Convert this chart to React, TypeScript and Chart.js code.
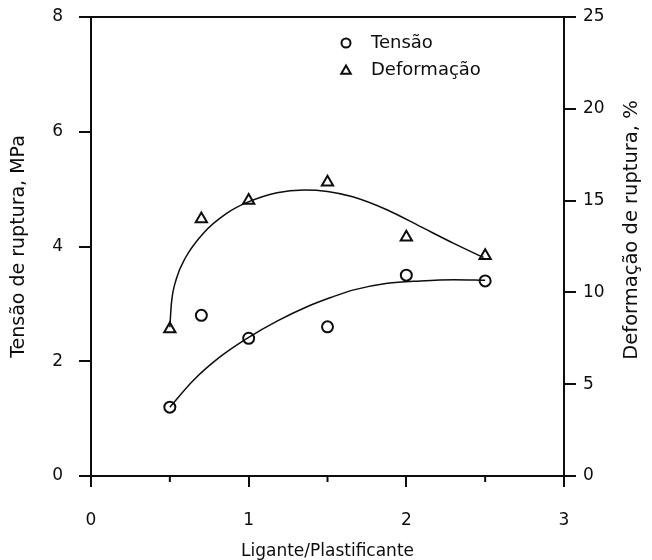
import React, { useEffect, useRef } from 'react';
import { Chart, registerables } from 'chart.js';

Chart.register(...registerables);

// ---- data ----
const xValues = [0.5, 0.7, 1.0, 1.5, 2.0, 2.5];
const tensaoValues = [1.2, 2.8, 2.4, 2.6, 3.5, 3.4];
const deformacaoValues = [8, 14, 15, 16, 13, 12];

// fitted curves
const tensaoCurveX = [0.5, 0.65, 0.82, 0.99, 1.18, 1.37, 1.52, 1.66, 1.88, 2.09, 2.3, 2.5];
const tensaoCurveY = [1.2, 1.67, 2.08, 2.4, 2.7, 2.95, 3.11, 3.24, 3.36, 3.4, 3.42, 3.41];
const deformacaoCurveX = [0.5, 0.51, 0.54, 0.6, 0.71, 0.86, 0.99, 1.18, 1.35, 1.5, 1.66, 1.88, 2.09, 2.3, 2.49];
const deformacaoCurveY = [8.1, 9.4, 10.7, 11.9, 13.2, 14.3, 14.9, 15.43, 15.58, 15.5, 15.21, 14.49, 13.58, 12.67, 11.9];

const xTicks = [0, 1, 2, 3];
const xMinorTicks = [0.5, 1.5, 2.5];
const leftTicks = [0, 2, 4, 6, 8];
const rightTicks = [0, 5, 10, 15, 20, 25];
const legendLabels = ['Tensão', 'Deformação'];
const xTitle = 'Ligante/Plastificante';
const leftTitle = 'Tensão de ruptura, MPa';
const rightTitle = 'Deformação de ruptura, %';

const FONT = "'DejaVu Sans', sans-serif";
const INK = '#0d0d0d';

const toPoints = (xs: number[], ys: number[]) => xs.map((x, i) => ({ x, y: ys[i] }));

const customPlugin = {
  id: 'customDecor',
  afterDraw(chart: any) {
    const { ctx, chartArea: a, scales } = chart;
    ctx.save();
    ctx.strokeStyle = INK;
    ctx.lineWidth = 2;
    ctx.strokeRect(a.left, a.top, a.right - a.left, a.bottom - a.top);
    // minor x ticks
    ctx.beginPath();
    xMinorTicks.forEach((v) => {
      const px = scales.x.getPixelForValue(v);
      ctx.moveTo(px, a.bottom);
      ctx.lineTo(px, a.bottom + 6);
    });
    ctx.stroke();

    // legend
    const lx = a.left + 255;
    const ly1 = a.top + 26;
    const ly2 = a.top + 53;
    ctx.lineWidth = 2;
    ctx.beginPath();
    ctx.arc(lx, ly1, 4.5, 0, Math.PI * 2);
    ctx.stroke();
    const r = 5.5;
    ctx.beginPath();
    for (let k = 0; k < 3; k++) {
      const ang = (k * 2 * Math.PI) / 3;
      const px = lx + Math.sin(ang) * r;
      const py = ly2 - Math.cos(ang) * r + 1;
      if (k === 0) ctx.moveTo(px, py);
      else ctx.lineTo(px, py);
    }
    ctx.closePath();
    ctx.stroke();
    ctx.fillStyle = INK;
    ctx.font = `18px ${FONT}`;
    ctx.textAlign = 'left';
    ctx.textBaseline = 'middle';
    ctx.fillText(legendLabels[0], lx + 25, ly1);
    ctx.fillText(legendLabels[1], lx + 25, ly2);

    // right axis title (reads bottom to top)
    ctx.translate(632, 230);
    ctx.rotate(-Math.PI / 2);
    ctx.textAlign = 'center';
    ctx.font = `19.5px ${FONT}`;
    ctx.fillText(rightTitle, 0, 0);
    ctx.restore();
  },
};

export default function App() {
  const ref = useRef<HTMLCanvasElement | null>(null);

  useEffect(() => {
    if (!ref.current) return;
    const chart = new Chart(ref.current, {
      type: 'scatter',
      data: {
        datasets: [
          {
            type: 'line',
            label: 'Tensão ajuste',
            data: toPoints(tensaoCurveX, tensaoCurveY),
            yAxisID: 'y',
            borderColor: INK,
            borderWidth: 1.5,
            pointRadius: 0,
            cubicInterpolationMode: 'monotone',
            fill: false,
          },
          {
            type: 'line',
            label: 'Deformação ajuste',
            data: toPoints(deformacaoCurveX, deformacaoCurveY),
            yAxisID: 'y1',
            borderColor: INK,
            borderWidth: 1.5,
            pointRadius: 0,
            cubicInterpolationMode: 'monotone',
            fill: false,
          },
          {
            label: legendLabels[0],
            data: toPoints(xValues, tensaoValues),
            yAxisID: 'y',
            pointStyle: 'circle',
            pointRadius: 5.5,
            borderWidth: 2,
            borderColor: INK,
            backgroundColor: 'rgba(0,0,0,0)',
          },
          {
            label: legendLabels[1],
            data: toPoints(xValues, deformacaoValues),
            yAxisID: 'y1',
            pointStyle: 'triangle',
            pointRadius: 6.5,
            borderWidth: 2,
            borderColor: INK,
            backgroundColor: 'rgba(0,0,0,0)',
          },
        ],
      },
      options: {
        responsive: false,
        animation: false,
        devicePixelRatio: 1,
        layout: { padding: { top: 17, left: 0, right: 0, bottom: 0 } },
        plugins: {
          legend: { display: false },
          tooltip: { enabled: false },
        },
        scales: {
          x: {
            type: 'linear',
            position: 'bottom',
            min: 0,
            max: 3,
            afterBuildTicks: (s: any) => {
              s.ticks = xTicks.map((v) => ({ value: v }));
            },
            afterFit: (s: any) => {
              s.height = 84;
            },
            grid: { drawOnChartArea: false, drawTicks: true, tickLength: 11, color: INK, lineWidth: 2 },
            border: { display: false },
            ticks: { color: INK, font: { family: FONT, size: 17 }, padding: 23, maxRotation: 0 },
            title: {
              display: true,
              text: xTitle,
              color: INK,
              font: { family: FONT, size: 17, lineHeight: 1.0 },
              padding: { top: 0, bottom: 0 },
            },
          },
          y: {
            type: 'linear',
            position: 'left',
            min: 0,
            max: 8,
            afterBuildTicks: (s: any) => {
              s.ticks = leftTicks.map((v) => ({ value: v }));
            },
            afterFit: (s: any) => {
              s.width = 91;
              s.paddingTop = 0;
              s.paddingBottom = 0;
            },
            grid: { drawOnChartArea: false, drawTicks: true, tickLength: 12, color: INK, lineWidth: 2 },
            border: { display: false },
            ticks: { color: INK, font: { family: FONT, size: 17 }, padding: 16 },
            title: {
              display: true,
              text: leftTitle,
              color: INK,
              font: { family: FONT, size: 19 },
              padding: { top: 8, bottom: 0 },
            },
          },
          y1: {
            type: 'linear',
            position: 'right',
            min: 0,
            max: 25,
            afterBuildTicks: (s: any) => {
              s.ticks = rightTicks.map((v) => ({ value: v }));
            },
            afterFit: (s: any) => {
              s.width = 88;
              s.paddingTop = 0;
              s.paddingBottom = 0;
            },
            grid: { drawOnChartArea: false, drawTicks: true, tickLength: 12, color: INK, lineWidth: 2 },
            border: { display: false },
            ticks: { color: INK, font: { family: FONT, size: 17 }, padding: 7 },
          },
        },
      },
      plugins: [customPlugin],
    } as any);
    return () => chart.destroy();
  }, []);

  return (
    <div style={{ position: 'fixed', left: 0, top: 0, width: 652, height: 560, background: '#fff' }}>
      <canvas ref={ref} width={652} height={560} style={{ display: 'block' }} />
    </div>
  );
}
